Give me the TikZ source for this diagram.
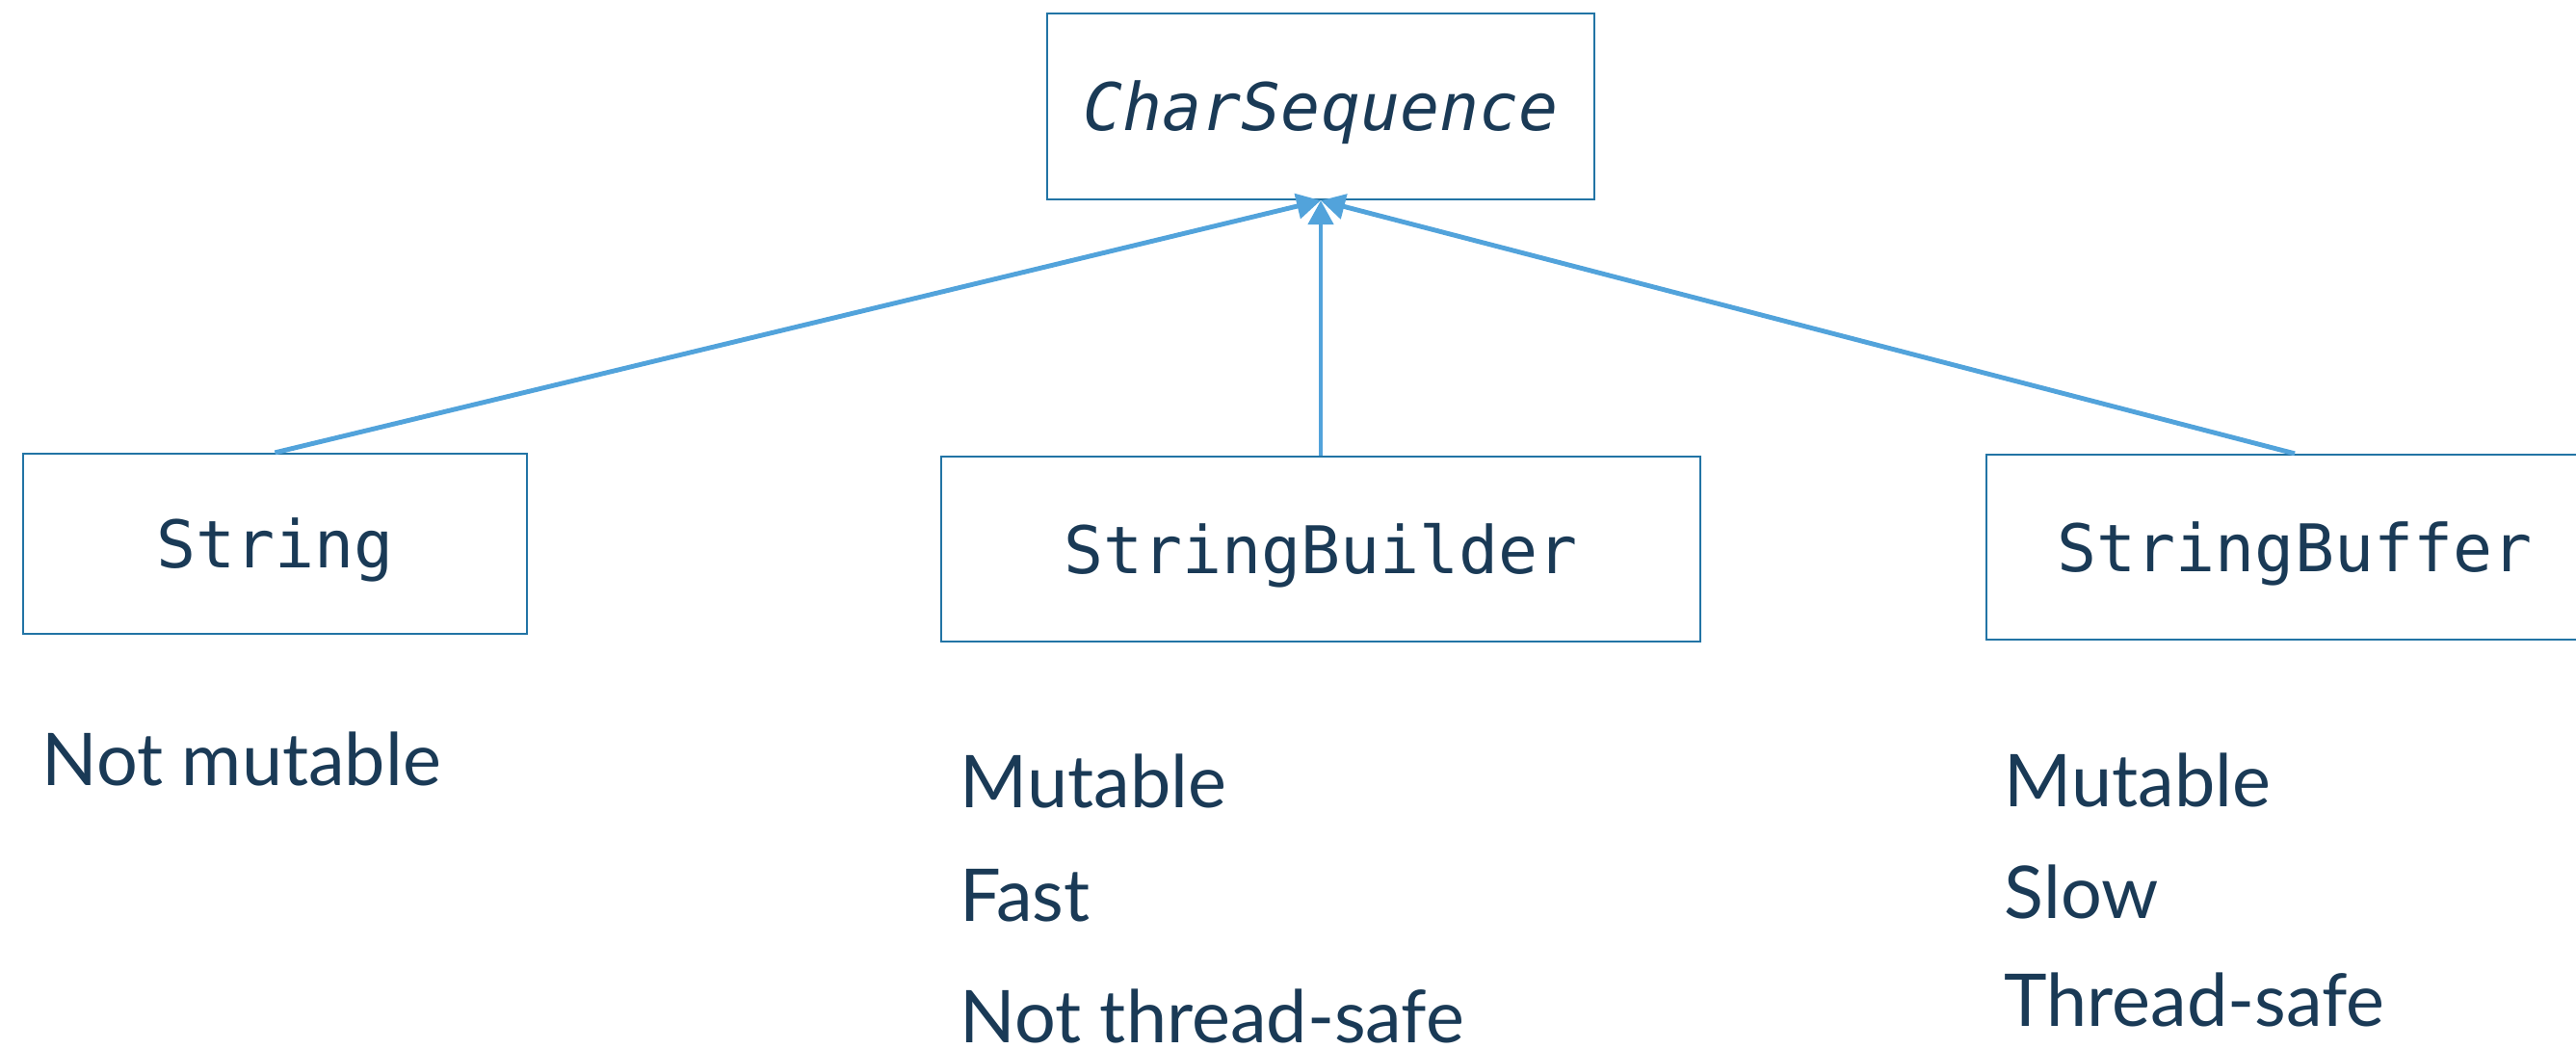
\documentclass[tikz,border=0pt]{standalone}
\usepackage{fontspec}
\setmainfont{Lato}
\newfontfamily\policecode{DejaVu Sans Mono}
\usepackage{tikz}
\usetikzlibrary{positioning}
\usetikzlibrary{arrows.meta}
\definecolor{bleunuit}{HTML}{1A3A56}
\definecolor{bleucadre}{HTML}{2274A5}
\definecolor{bleufleche}{HTML}{52A3DB}

\begin{document}
\begin{tikzpicture}
% définition des paramètres
\tikzstyle boiteclasse=[draw=bleucadre,line width=0.65pt,text=bleunuit,font=\policecode\fontsize{19.4}{22}\selectfont,text height=0.5cm,text depth=0pt,inner sep=0pt]
\tikzstyle flecheherit=[draw=bleufleche,fill=bleufleche,line width=1.4pt,-{Triangle[length=0.25cm,width=0.26cm]}]
\tikzstyle propriete=[text=bleunuit,font=\fontsize{21.5}{26}\selectfont,anchor=base west,inner sep=0pt]

\newcommand{\xgauche}{0.43}  % abscisse de la colonne de gauche
\newcommand{\xmilieu}{9.96}  % abscisse de la colonne du milieu
\newcommand{\xdroite}{20.80} % abscisse de la colonne de droite

% le cadre
\useasboundingbox (0,0) rectangle (26.74,-10.88);
\clip (0,0) rectangle (26.74,-10.88);

% les classes
\node[boiteclasse,minimum width=5.68cm,minimum height=1.93cm] (charseq) at (13.71,-1.105) {\itshape CharSequence};
\node[boiteclasse,minimum width=7.88cm,minimum height=1.92cm,below=2.65cm of charseq] (builder) {StringBuilder};
\node[boiteclasse,minimum width=5.23cm,minimum height=1.87cm] (string) at (2.855,-5.645) {String};
\node[boiteclasse,minimum width=6.40cm,minimum height=1.92cm] (buffer) at (23.82,-5.68) {StringBuffer};

% les flèches
\draw[flecheherit] (string.north) -- (charseq.south);
\draw[flecheherit] (builder.north) -- (charseq.south);
\draw[flecheherit] (buffer.north) -- (charseq.south);

% les propriétés
\node[propriete] (nonmut) at (\xgauche,-8.15) {Not mutable};
\node[propriete] (mutA) at (\xmilieu,-8.38) {Mutable};
\node[propriete] (rapide) at (\xmilieu,-9.56) {Fast};
\node[propriete] (nonsur) at (\xmilieu,-10.82) {Not thread-safe};
\node[propriete] (mutB) at (\xdroite,-8.37) {Mutable};
\node[propriete] (lent) at (\xdroite,-9.53) {Slow};
\node[propriete] (sur) at (\xdroite,-10.65) {Thread-safe};
\end{tikzpicture}
\end{document}
